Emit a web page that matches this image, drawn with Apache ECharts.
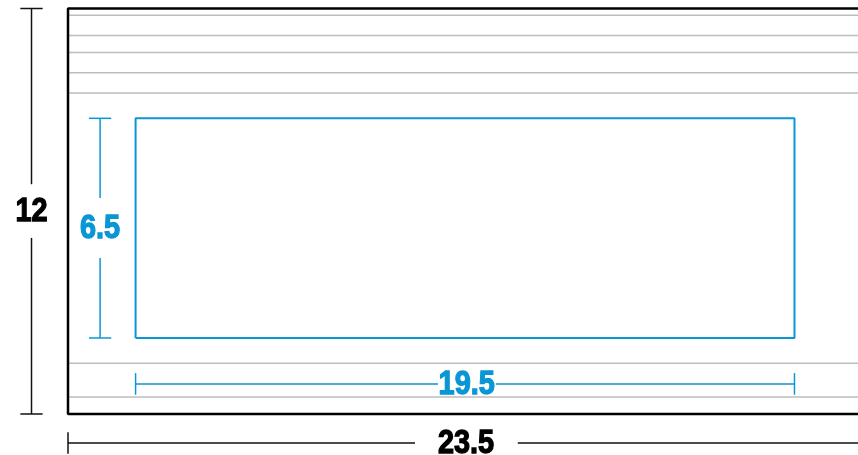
<!DOCTYPE html>
<html>
<head>
<meta charset="utf-8">
<script src="https://cdn.jsdelivr.net/npm/echarts@6/dist/echarts.min.js"></script>
<style>
  html, body { margin: 0; padding: 0; background: #fff; }
  #main { width: 858px; height: 455px; }
</style>
</head>
<body>
<div id="main"></div>
<script>
// 外框尺寸 (单位: 英寸)
const outerSize = [23.5, 12];
// 内框: 左下角 + 宽高
const innerOrigin = [2, 2.25];
const innerSize = [19.5, 6.5];
// 灰色横线的高度
const grayLinesY = [11.8, 11.2, 10.7, 10.1, 9.5, 1.5, 0.5];
// 标注文字
const dimLabels = ['23.5', '12', '19.5', '6.5'];

const BLUE = '#0996d4';
const PX = 33.79; // 每英寸像素

const [W, H] = outerSize;
const [ix, iy] = innerOrigin;
const [iw, ih] = innerSize;

// 坐标系铺满画布, 外框右边落在画布外
const xMin = -68 / PX;
const xMax = (858 - 68) / PX;
const yMax = H + 8.5 / PX;
const yMin = -(455 - 414) / PX;
const xr = Math.min(W, xMax); // 画布右边界

const chart = echarts.init(document.getElementById('main'));

// 线段 -> line series
const seg = (pts, color, width) => ({
  type: 'line',
  data: pts,
  symbol: 'none',
  silent: true,
  clip: false,
  lineStyle: { color: color, width: width },
  animation: false
});

// 带缺口的尺寸线: 主线分两段, 两端加短横
function dimLine(axis, pos, from, to, gapFrom, gapTo, cap, color, width) {
  const p = (a, b) => axis === 'h' ? [a, b] : [b, a];
  const list = [
    seg([p(from, pos), p(gapFrom, pos)], color, width),
    seg([p(gapTo, pos), p(to, pos)], color, width),
    seg([p(from, pos - cap), p(from, pos + cap)], color, width)
  ];
  if (axis === 'v' || to < xMax) list.push(seg([p(to, pos - cap), p(to, pos + cap)], color, width));
  return list;
}

// 文字 (custom series, 窄体)
const label = (x, y, text, color) => ({
  type: 'custom',
  data: [[x, y]],
  silent: true,
  clip: false,
  animation: false,
  renderItem: (params, api) => {
    const pt = api.coord([api.value(0), api.value(1)]);
    return {
      type: 'text',
      x: pt[0],
      y: pt[1],
      scaleX: 0.85,
      style: {
        text: text,
        fill: color,
        stroke: color,
        lineWidth: 1.3,
        fontFamily: 'Liberation Sans, Arial, sans-serif',
        fontWeight: 'bold',
        fontSize: 34,
        align: 'center',
        verticalAlign: 'middle'
      }
    };
  }
});

const series = [];
// 灰线
grayLinesY.forEach(y => series.push(seg([[0, y], [xr, y]], '#bdbdbd', 1.5)));
// 外框
series.push(seg([[xr, 0], [0, 0], [0, H], [xr, H]], '#000', 2.5));
// 内框
series.push(seg([[ix, iy], [ix + iw, iy], [ix + iw, iy + ih], [ix, iy + ih], [ix, iy]], BLUE, 2));

// 尺寸线
series.push(...dimLine('h', -0.86, 0, xr, 10.27, 13.31, 0.32, '#111', 1.5));
series.push(...dimLine('v', -1.08, 0, H, 5.21, 6.80, 0.33, '#111', 1.5));
series.push(...dimLine('h', 0.89, ix, ix + iw, 10.95, 12.66, 0.32, BLUE, 1.5));
series.push(...dimLine('v', 0.95, iy, iy + ih, 4.62, 6.39, 0.33, BLUE, 1.5));

// 文字
series.push(label(W / 2 + 0.03, -0.88, dimLabels[0], '#000'));
series.push(label(-1.08, 6.0, dimLabels[1], '#000'));
series.push(label(ix + iw / 2 + 0.05, 0.87, dimLabels[2], BLUE));
series.push(label(0.95, 5.48, dimLabels[3], BLUE));

chart.setOption({
  animation: false,
  grid: { left: 0, top: 0, right: 0, bottom: 0 },
  xAxis: { type: 'value', min: xMin, max: xMax, show: false },
  yAxis: { type: 'value', min: yMin, max: yMax, show: false },
  series: series
});
</script>
</body>
</html>
